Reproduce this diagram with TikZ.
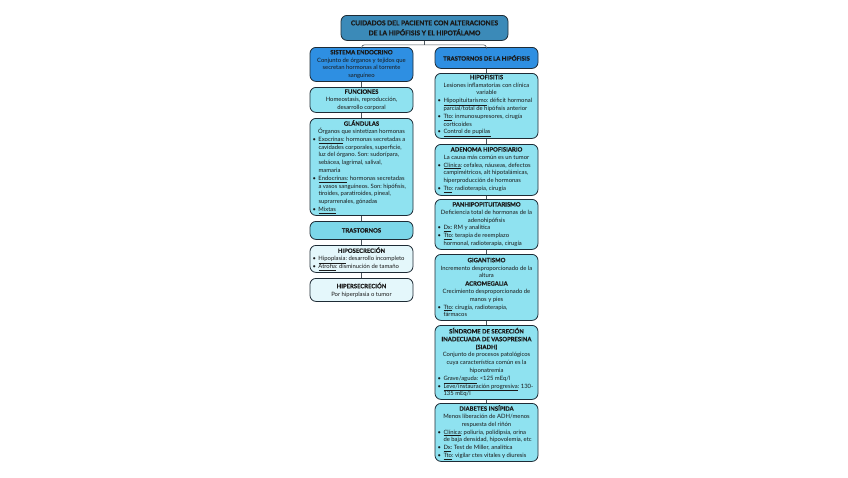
\documentclass[tikz,border=0pt]{standalone}
\usepackage{fontspec}
\setmainfont{Lato}[BoldFeatures={FakeBold=0.6}]
\usetikzlibrary{calc}
\definecolor{titlefill}{HTML}{3B8AB8}
\definecolor{bluefill}{HTML}{2E8FE2}
\definecolor{cyanfill}{HTML}{8FE2F0}
\definecolor{trafill}{HTML}{7CD7E9}
\definecolor{palefill}{HTML}{E4F7FB}
\definecolor{boxline}{HTML}{1E2B35}
\definecolor{txt}{HTML}{1A1A1A}
\hyphenpenalty=10000
\exhyphenpenalty=10000
\frenchspacing
\newcommand\fs{\fontsize{5.9}{7.8}\selectfont}
\newcommand\ft{\fontsize{6.6}{10}\selectfont\bfseries}
\newcommand\bit[1]{\par\hangindent=6pt\hangafter=1\noindent\hbox to 6pt{\textbullet\hfil}#1}
\newcommand\nl{\newline}
\newenvironment{blist}{\par\raggedright}{\par}
\begin{document}
\begin{tikzpicture}[x=1pt,y=-1pt,
  box/.style={draw=boxline, line width=0.8pt, rounded corners=6pt, text width=98pt,
    inner xsep=2.5pt, inner ysep=1pt, align=flush center, font=\fs, text=txt, anchor=north},
  conn/.style={draw=boxline!80, line width=0.6pt}]
\useasboundingbox (0,0) rectangle (848,477);
\fill[white] (0,0) rectangle (848,477);
% title
\node[box, fill=titlefill, text width=162pt, minimum height=25pt, font=\ft]
  (title) at (424.5,15) {CUIDADOS DEL PACIENTE CON ALTERACIONES\\DE LA HIPÓFISIS Y EL HIPOTÁLAMO};
% left column
\node[box, fill=bluefill, minimum height=34pt] (se) at (361.5,47)
  {\textbf{SISTEMA ENDOCRINO}\\Conjunto de órganos y tejidos que\\secretan hormonas al torrente\\sanguíneo};
\node[box, fill=cyanfill, minimum height=25pt] (fun) at (361.5,87)
  {\textbf{FUNCIONES}\\Homeostasis, reproducción,\\desarrollo corporal};
\node[box, fill=cyanfill, minimum height=97pt] (gla) at (361.5,118)
  {\textbf{GLÁNDULAS}\\Órganos que sintetizan hormonas
   \begin{blist}
   \bit{\underline{Exocrinas}: hormonas secretadas a\nl cavidades corporales, superficie,\nl luz del órgano. Son: sudorípara,\nl sebácea, lagrimal, salival,\nl mamaria}
   \bit{\underline{Endocrinas}: hormonas secretadas\nl a vasos sanguíneos. Son: hipófisis,\nl tiroides, paratiroides, pineal,\nl suprarrenales, gónadas}
   \bit{\underline{Mixtas}}
   \end{blist}};
\node[box, fill=trafill, minimum height=18pt] (tra) at (361.5,221) {\textbf{TRASTORNOS}};
\node[box, fill=palefill, minimum height=27pt] (hipo) at (361.5,245)
  {\textbf{HIPOSECRECIÓN}
   \begin{blist}
   \bit{\underline{Hipoplasia}: desarrollo incompleto}
   \bit{\underline{Atrofia}: disminución de tamaño}
   \end{blist}};
\node[box, fill=palefill, minimum height=23pt] (hiper) at (361.5,278)
  {\textbf{HIPERSECRECIÓN}\\Por hiperplasia o tumor};
% right column
\node[box, fill=bluefill, minimum height=21pt] (th) at (486.5,47) {\textbf{TRASTORNOS DE LA HIPÓFISIS}};
\node[box, fill=cyanfill, minimum height=65pt] (hf) at (486.5,73)
  {\textbf{HIPOFISITIS}\\Lesiones inflamatorias con clínica\\variable
   \begin{blist}
   \bit{\underline{Hipopituitarismo}: déficit hormonal\nl parcial/total de hipófisis anterior}
   \bit{\underline{Tto}: inmunosupresores, cirugía\nl corticoides}
   \bit{\underline{Control de pupilas}}
   \end{blist}};
\node[box, fill=cyanfill, minimum height=51pt] (ad) at (486.5,144)
  {\textbf{ADENOMA HIPOFISIARIO}\\La causa más común es un tumor
   \begin{blist}
   \bit{\underline{Clínica}: cefalea, náuseas, defectos\nl campimétricos, alt hipotalámicas,\nl hiperproducción de hormonas}
   \bit{\underline{Tto}: radioterapia, cirugía}
   \end{blist}};
\node[box, fill=cyanfill, minimum height=50pt] (pan) at (486.5,199)
  {\textbf{PANHIPOPITUITARISMO}\\Deficiencia total de hormonas de la\\adenohipófisis
   \begin{blist}
   \bit{\underline{Dx}: RM y analítica}
   \bit{\underline{Tto}: terapia de reemplazo\nl hormonal, radioterapia, cirugía}
   \end{blist}};
\node[box, fill=cyanfill, minimum height=66pt] (gig) at (486.5,254)
  {\textbf{GIGANTISMO}\\Incremento desproporcionado de la\\altura\\
   \textbf{ACROMEGALIA}\\Crecimiento desproporcionado de\\manos y pies
   \begin{blist}
   \bit{\underline{Tto}: cirugía, radioterapia,\nl fármacos}
   \end{blist}};
\node[box, fill=cyanfill, minimum height=74pt] (sin) at (486.5,325)
  {\textbf{SÍNDROME DE SECRECIÓN}\\\textbf{INADECUADA DE VASOPRESINA}\\\textbf{(SIADH)}\\Conjunto de procesos patológicos\\cuya característica común es la\\hiponatremia
   \begin{blist}
   \bit{\underline{Grave/aguda}: <125 mEq/l}
   \bit{\underline{Leve/instauración progresiva}: 130-\nl 135 mEq/l}
   \end{blist}};
\node[box, fill=cyanfill, minimum height=58pt] (di) at (486.5,403)
  {\textbf{DIABETES INSÍPIDA}\\Menos liberación de ADH/menos\\respuesta del riñón
   \begin{blist}
   \bit{\underline{Clínica}: poliuria, polidipsia, orina\nl de baja densidad, hipovolemia, etc}
   \bit{\underline{Dx}: Test de Miller, analítica}
   \bit{\underline{Tto}: vigilar ctes vitales y diuresis}
   \end{blist}};
% connectors
\coordinate (j) at ($(title.south)+(0,4)$);
\draw[conn] (title.south) -- (j);
\draw[conn, rounded corners=3pt] (se.north) |- (j) -| (th.north);
\draw[conn] (se.south) -- (fun.north);
\draw[conn] (fun.south) -- (gla.north);
\draw[conn] (gla.south) -- (tra.north);
\draw[conn] (tra.south) -- (hipo.north);
\draw[conn] (hipo.south) -- (hiper.north);
\draw[conn] (th.south) -- (hf.north);
\draw[conn] (hf.south) -- (ad.north);
\draw[conn] (ad.south) -- (pan.north);
\draw[conn] (pan.south) -- (gig.north);
\draw[conn] (gig.south) -- (sin.north);
\draw[conn] (sin.south) -- (di.north);
\end{tikzpicture}
\end{document}
